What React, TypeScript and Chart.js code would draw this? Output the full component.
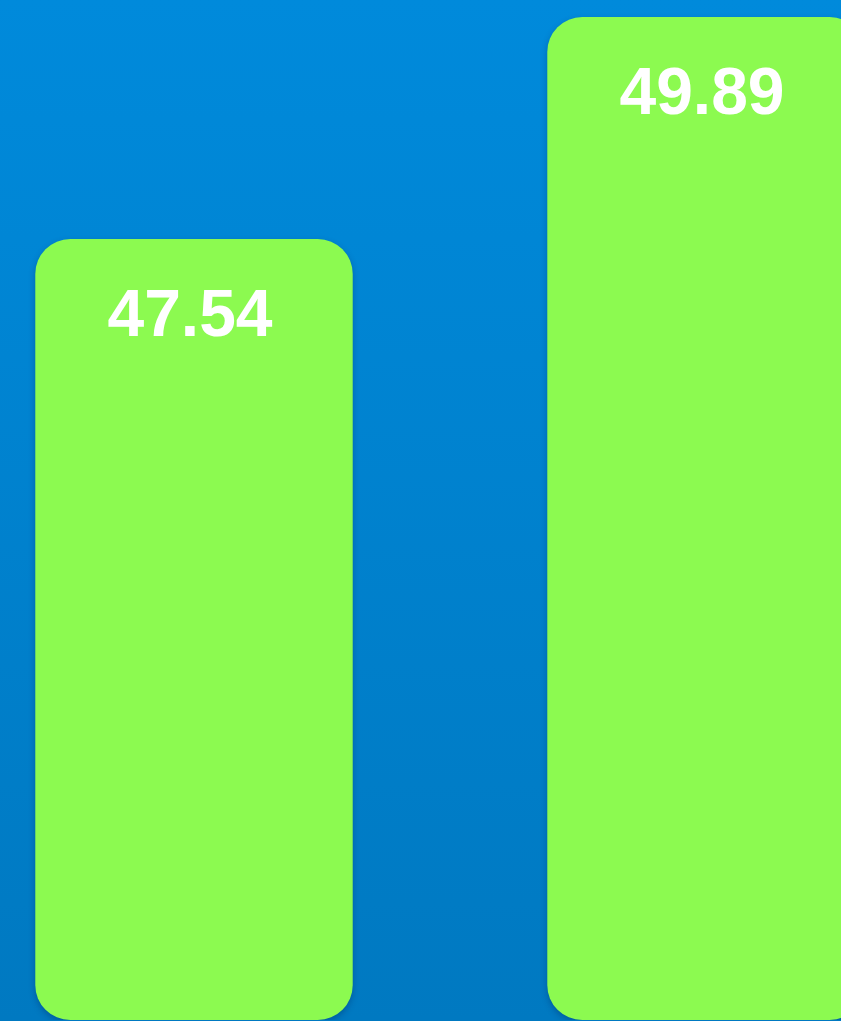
import React, { useEffect, useRef } from "react";
import { Chart, registerables } from "chart.js";

Chart.register(...registerables);

const categories = ["A", "B"];
const values = [47.54, 49.89];
const labelTexts = ["47.54", "49.89"];
const axisMin = 39.273;
const axisMax = 50.07;

const barShadow = {
  id: "barShadow",
  beforeDatasetsDraw(chart: any) {
    const ctx = chart.ctx;
    ctx.save();
    ctx.shadowColor = "rgba(0, 40, 90, 0.35)";
    ctx.shadowBlur = 6;
    ctx.shadowOffsetX = 0;
    ctx.shadowOffsetY = 3;
  },
  afterDatasetsDraw(chart: any) {
    chart.ctx.restore();
  },
};

const valueLabels = {
  id: "valueLabels",
  afterDraw(chart: any) {
    const ctx = chart.ctx;
    const meta = chart.getDatasetMeta(0);
    ctx.save();
    ctx.fillStyle = "#ffffff";
    ctx.font = "bold 66px 'Liberation Sans', Arial, sans-serif";
    ctx.textAlign = "center";
    ctx.textBaseline = "alphabetic";
    meta.data.forEach((bar: any, i: number) => {
      ctx.fillText(labelTexts[i], bar.x - 4, bar.y + 97);
    });
    ctx.restore();
  },
};

export default function App() {
  const ref = useRef<HTMLCanvasElement | null>(null);

  useEffect(() => {
    if (!ref.current) return;
    const chart = new Chart(ref.current, {
      type: "bar",
      data: {
        labels: categories,
        datasets: [
          {
            data: values,
            base: axisMin,
            backgroundColor: "#8CFA50",
            borderWidth: 0,
            borderRadius: 35,
            borderSkipped: false,
            categoryPercentage: 1,
            barPercentage: 0.62,
          },
        ],
      },
      options: {
        animation: false,
        responsive: false,
        maintainAspectRatio: false,
        devicePixelRatio: 1,
        layout: { padding: { top: 0, bottom: 1, left: 0, right: 0 } },
        plugins: {
          legend: { display: false },
          tooltip: { enabled: false },
        },
        scales: {
          x: { display: false },
          y: { display: false, min: axisMin, max: axisMax },
        },
      },
      plugins: [barShadow, valueLabels],
    });
    return () => chart.destroy();
  }, []);

  return (
    <div
      style={{
        position: "fixed",
        left: 0,
        top: 0,
        width: "841px",
        height: "1021px",
        overflow: "hidden",
        background: "linear-gradient(to bottom, #008ADB 0%, #0079C1 100%)",
      }}
    >
      <canvas
        ref={ref}
        width={1024}
        height={1021}
        style={{ position: "absolute", left: "-62px", top: 0, width: "1024px", height: "1021px" }}
      />
    </div>
  );
}
